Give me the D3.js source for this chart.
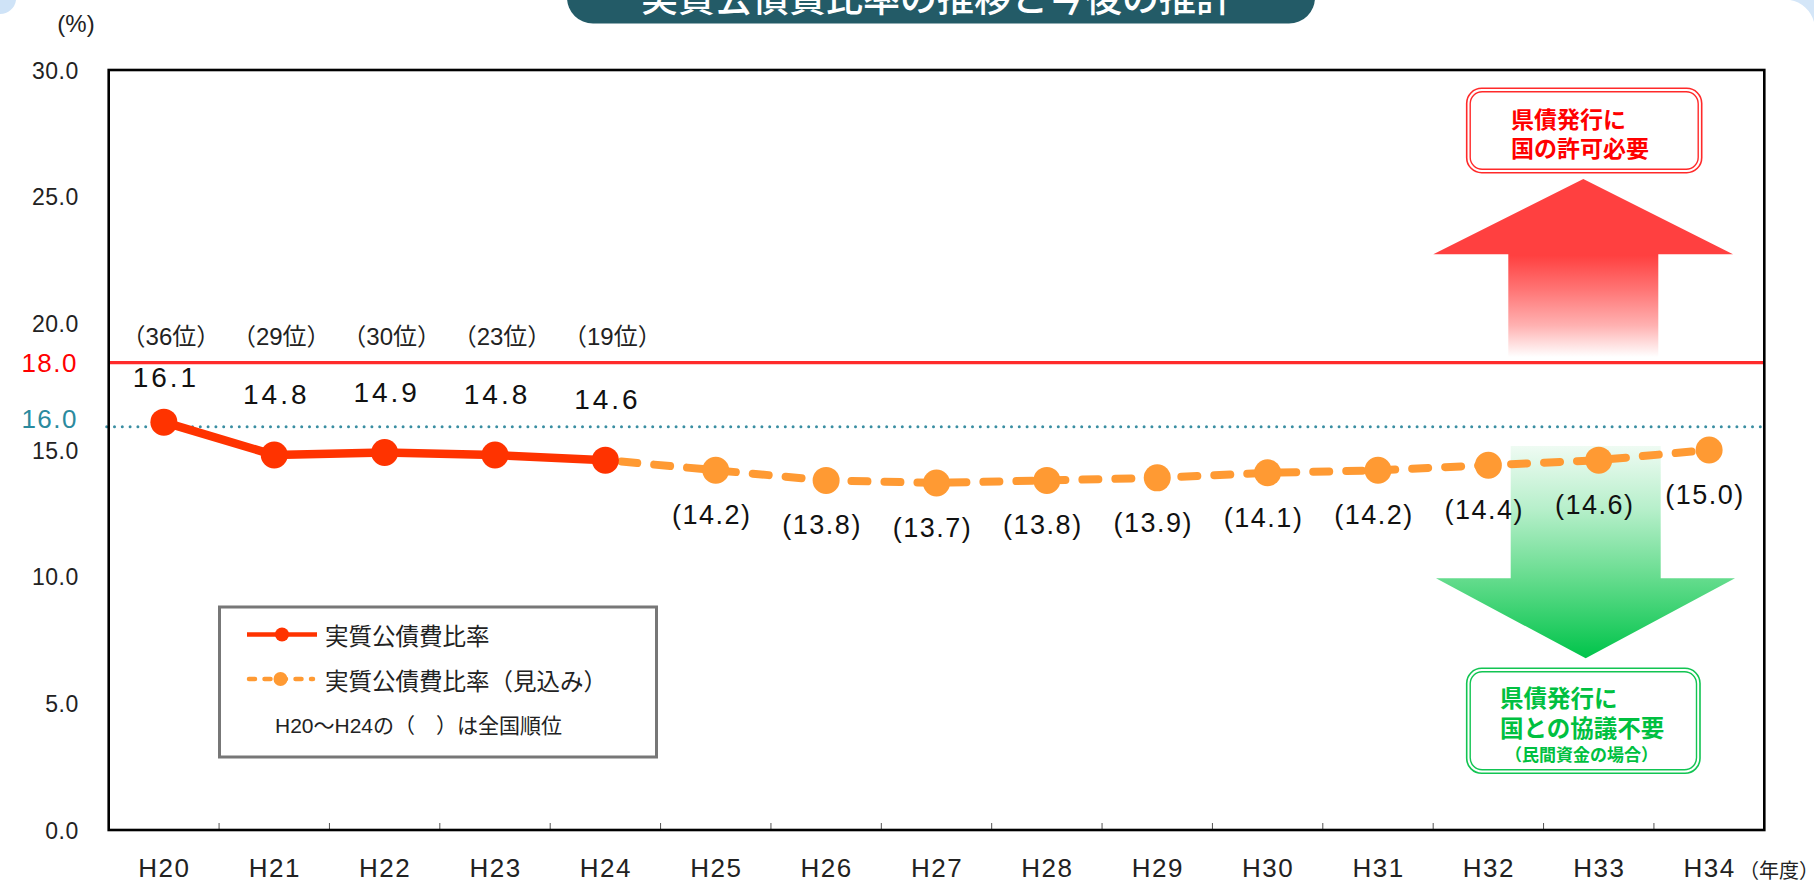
<!DOCTYPE html>
<html>
<head>
<meta charset="utf-8">
<script src="https://cdn.jsdelivr.net/npm/d3@7"></script>
<style>
  html, body { margin: 0; padding: 0; background: #ffffff; }
  svg { display: block; }
</style>
</head>
<body>
<svg id="chart" width="1814" height="883"></svg>
<script>
// ---------------- DATA ----------------
const years = ["H20","H21","H22","H23","H24","H25","H26","H27","H28","H29","H30","H31","H32","H33","H34"];
const actualYears = ["H20","H21","H22","H23","H24"];
const actualValues = [16.1, 14.8, 14.9, 14.8, 14.6];
const actualRanks = ["（36位）","（29位）","（30位）","（23位）","（19位）"];
const forecastYears = ["H24","H25","H26","H27","H28","H29","H30","H31","H32","H33","H34"];
const forecastValues = [14.6, 14.2, 13.8, 13.7, 13.8, 13.9, 14.1, 14.2, 14.4, 14.6, 15.0];
const yTickValues = [0, 5, 10, 15, 20, 25, 30];
const permitLineValue = 18.45;   // red line as drawn in the picture (labelled 18.0)
const permitLabel = "18.0";
const consultLineValue = 16.0;
const consultLabel = "16.0";
const titleText = "実質公債費比率の推移と今後の推計";
const legendLabels = ["実質公債費比率", "実質公債費比率（見込み）"];
const legendNote = "H20～H24の（　）は全国順位";
const redBoxLines = ["県債発行に", "国の許可必要"];
const greenBoxLines = ["県債発行に", "国との協議不要"];
const greenBoxSub = "（民間資金の場合）";

// ---------------- LAYOUT ----------------
const svg = d3.select("#chart");
const L = 108.7, R = 1764.3, T = 70, B = 830;
const NUM_FONT = "'Liberation Sans', Arial, 'Noto Sans CJK JP', sans-serif";
const JP_FONT = "'Noto Sans CJK JP', 'Noto Sans', sans-serif";

const x = d3.scalePoint().domain(years).range([L, R]).padding(0.5);
const y = d3.scaleLinear().domain([0, 30]).range([B, T]);
const step = x.step();

const COL_ACT = "#ff3300";
const COL_FC = "#ff9a33";
const COL_RED = "#ff2a2a";
const COL_TEAL = "#3a8ea2";
const COL_GREEN = "#12c452";

// decorative background corners
svg.append("path").attr("d", "M0,0 L16,0 A16,16 0 0 1 0,14 Z").attr("fill", "#cfe3f7");
svg.append("path").attr("d", "M1790,0 L1814,0 L1814,22 A30,30 0 0 0 1790,0 Z").attr("fill", "#d4e6f8");

// title banner
svg.append("rect").attr("x", 567).attr("y", -40).attr("width", 748).attr("height", 63.5)
  .attr("rx", 26).attr("fill", "#235b67");
svg.append("text").attr("x", 937).attr("y", -4).attr("text-anchor", "middle")
  .attr("dominant-baseline", "central").attr("fill", "#ffffff")
  .style("font-family", JP_FONT).style("font-weight", 500).style("font-size", "37px")
  .text(titleText);

// defs: gradients
const defs = svg.append("defs");
const gRed = defs.append("linearGradient").attr("id", "gradRed")
  .attr("gradientUnits", "userSpaceOnUse").attr("x1", 0).attr("x2", 0).attr("y1", 179).attr("y2", 357);
[[0, "#ff4040"], [0.43, "#ff4040"], [0.62, "#ff7474"], [0.82, "#ffb0b0"], [1, "#ffffff"]]
  .forEach(s => gRed.append("stop").attr("offset", s[0]).attr("stop-color", s[1]));
const gGreen = defs.append("linearGradient").attr("id", "gradGreen")
  .attr("gradientUnits", "userSpaceOnUse").attr("x1", 0).attr("x2", 0).attr("y1", 446).attr("y2", 658);
[[0, "#effbf3"], [0.3, "#b6efca"], [0.62, "#66dc8e"], [1, "#00c44a"]]
  .forEach(s => gGreen.append("stop").attr("offset", s[0]).attr("stop-color", s[1]));

// ---------------- ARROWS & BOXES ----------------
const redArrow = [[1583.3,179],[1733,254.3],[1658.3,254.3],[1658.3,357],[1508.3,357],[1508.3,254.3],[1433.3,254.3]];
svg.append("polygon").attr("points", redArrow.map(p => p.join(",")).join(" ")).attr("fill", "url(#gradRed)");
const greenArrow = [[1510.7,446],[1660.7,446],[1660.7,578.3],[1735,578.3],[1585.7,658.3],[1436,578.3],[1510.7,578.3]];
svg.append("polygon").attr("points", greenArrow.map(p => p.join(",")).join(" ")).attr("fill", "url(#gradGreen)");

function doubleBox(x0, y0, w, h, col) {
  svg.append("rect").attr("x", x0).attr("y", y0).attr("width", w).attr("height", h)
    .attr("rx", 15).attr("fill", "#ffffff").attr("stroke", col).attr("stroke-width", 1.6);
  svg.append("rect").attr("x", x0 + 3.5).attr("y", y0 + 3.5).attr("width", w - 7).attr("height", h - 7)
    .attr("rx", 12).attr("fill", "none").attr("stroke", col).attr("stroke-width", 1.4);
}
doubleBox(1466.7, 88.3, 235, 84.4, COL_RED);
redBoxLines.forEach((t, i) => {
  svg.append("text").attr("x", 1511).attr("y", 118 + i * 29).attr("dominant-baseline", "central")
    .attr("fill", "#ff0000").style("font-family", JP_FONT).style("font-weight", 700)
    .style("font-size", "23px").text(t);
});
doubleBox(1466.7, 668.3, 233.3, 105, COL_GREEN);
greenBoxLines.forEach((t, i) => {
  svg.append("text").attr("x", 1500).attr("y", 697 + i * 30).attr("dominant-baseline", "central")
    .attr("fill", "#00c040").style("font-family", JP_FONT).style("font-weight", 700)
    .style("font-size", "23.5px").text(t);
});
svg.append("text").attr("x", 1505).attr("y", 753).attr("dominant-baseline", "central")
  .attr("fill", "#00c040").style("font-family", JP_FONT).style("font-weight", 700)
  .style("font-size", "17px").text(greenBoxSub);

// ---------------- REFERENCE LINES ----------------
svg.append("line").attr("x1", L).attr("x2", R).attr("y1", y(permitLineValue)).attr("y2", y(permitLineValue))
  .attr("stroke", COL_RED).attr("stroke-width", 3.2);
svg.append("line").attr("x1", L - 2).attr("x2", R - 4).attr("y1", y(consultLineValue) + 2).attr("y2", y(consultLineValue) + 2)
  .attr("stroke", COL_TEAL).attr("stroke-width", 3).attr("stroke-linecap", "round")
  .attr("stroke-dasharray", "0,7.8");

// ---------------- AXES ----------------
const yAxis = d3.axisLeft(y).tickValues(yTickValues).tickSize(0).tickPadding(0).tickFormat(d3.format(".1f"));
const yg = svg.append("g").attr("transform", `translate(${L - 30},0)`).call(yAxis);
yg.select(".domain").remove();
yg.selectAll("text").attr("x", 0).attr("dy", "0.35em").attr("fill", "#222")
  .style("font-family", NUM_FONT).style("font-size", "23px").style("letter-spacing", "0.5px");

svg.append("text").attr("x", 78).attr("y", y(permitLineValue)).attr("dy", "0.36em").attr("text-anchor", "end")
  .attr("fill", "#ff0000").style("font-family", NUM_FONT).style("font-size", "26px")
  .style("letter-spacing", "1.5px").text(permitLabel);
svg.append("text").attr("x", 78).attr("y", y(consultLineValue) - 6).attr("dy", "0.36em").attr("text-anchor", "end")
  .attr("fill", "#2b8a9e").style("font-family", NUM_FONT).style("font-size", "26px")
  .style("letter-spacing", "1.5px").text(consultLabel);

svg.append("text").attr("x", 76).attr("y", 23).attr("dominant-baseline", "central").attr("text-anchor", "middle")
  .attr("fill", "#222").style("font-family", NUM_FONT).style("font-size", "24px").text("(%)");

// x ticks (category boundaries, pointing inward)
svg.append("g").selectAll("line").data(years.slice(1)).join("line")
  .attr("x1", d => x(d) - step / 2).attr("x2", d => x(d) - step / 2)
  .attr("y1", B).attr("y2", B - 7).attr("stroke", "#555").attr("stroke-width", 1);

const xAxis = d3.axisBottom(x).tickSize(0).tickPadding(0);
const xg = svg.append("g").attr("transform", `translate(0,${B})`).call(xAxis);
xg.select(".domain").remove();
xg.selectAll("text").attr("y", 38).attr("dy", "0.35em").attr("fill", "#222")
  .style("font-family", NUM_FONT).style("font-size", "26px").style("letter-spacing", "1.5px");
svg.append("text").attr("x", 1779).attr("y", 869).attr("dominant-baseline", "central").attr("text-anchor", "middle")
  .attr("fill", "#222").style("font-family", JP_FONT).style("font-size", "20px").text("（年度）");

// plot frame
svg.append("rect").attr("x", L).attr("y", T).attr("width", R - L).attr("height", B - T)
  .attr("fill", "none").attr("stroke", "#000").attr("stroke-width", 2.6);

// ---------------- LEGEND ----------------
const lg = svg.append("g");
lg.append("rect").attr("x", 219.5).attr("y", 607).attr("width", 437).attr("height", 150)
  .attr("fill", "#fff").attr("stroke", "#777").attr("stroke-width", 3);
lg.append("line").attr("x1", 247).attr("x2", 317).attr("y1", 634.5).attr("y2", 634.5)
  .attr("stroke", COL_ACT).attr("stroke-width", 4.5);
lg.append("circle").attr("cx", 282).attr("cy", 634.5).attr("r", 7).attr("fill", COL_ACT);
lg.append("line").attr("x1", 249).attr("x2", 313).attr("y1", 679).attr("y2", 679)
  .attr("stroke", COL_FC).attr("stroke-width", 4.5).attr("stroke-linecap", "round")
  .attr("stroke-dasharray", "6,9.5");
lg.append("circle").attr("cx", 280.5).attr("cy", 679).attr("r", 7).attr("fill", COL_FC);
legendLabels.forEach((t, i) => {
  lg.append("text").attr("x", 325).attr("y", 635 + i * 45).attr("dominant-baseline", "central")
    .attr("fill", "#222").style("font-family", JP_FONT).style("font-size", "23.5px").text(t);
});
lg.append("text").attr("x", 275).attr("y", 725).attr("dominant-baseline", "central")
  .attr("fill", "#222").style("font-family", NUM_FONT).style("font-size", "21px").text(legendNote);

// ---------------- SERIES ----------------
const fcData = forecastYears.map((d, i) => ({ year: d, value: forecastValues[i] }));
const actData = actualYears.map((d, i) => ({ year: d, value: actualValues[i], rank: actualRanks[i] }));
const line = d3.line().x(d => x(d.year)).y(d => y(d.value));

svg.append("path").datum(fcData).attr("d", line).attr("fill", "none")
  .attr("stroke", COL_FC).attr("stroke-width", 8).attr("stroke-linecap", "round")
  .attr("stroke-dasharray", "16,17").attr("stroke-dashoffset", -16);
svg.append("g").selectAll("circle").data(fcData.slice(1)).join("circle")
  .attr("cx", d => x(d.year)).attr("cy", d => y(d.value)).attr("r", 13.5).attr("fill", COL_FC);

svg.append("path").datum(actData).attr("d", line).attr("fill", "none")
  .attr("stroke", COL_ACT).attr("stroke-width", 8.5).attr("stroke-linejoin", "round");
svg.append("g").selectAll("circle").data(actData).join("circle")
  .attr("cx", d => x(d.year)).attr("cy", d => y(d.value)).attr("r", 13.5).attr("fill", COL_ACT);

// value labels – actual (above, kept below the red line)
const redY = y(permitLineValue);
svg.append("g").selectAll("text").data(actData).join("text")
  .attr("x", d => x(d.year) + 2)
  .attr("y", d => Math.max(y(d.value) - 61, redY + 14))
  .attr("dy", "0.36em").attr("text-anchor", "middle").attr("fill", "#111")
  .style("font-family", NUM_FONT).style("font-size", "28px").style("letter-spacing", "3px")
  .text(d => d3.format(".1f")(d.value));
// rank labels
svg.append("g").selectAll("text").data(actData).join("text")
  .attr("x", d => x(d.year) + 7).attr("y", 336.5)
  .attr("dominant-baseline", "central").attr("text-anchor", "middle").attr("fill", "#222")
  .style("font-family", NUM_FONT).style("font-size", "24px")
  .text(d => d.rank);
// value labels – forecast (below)
svg.append("g").selectAll("text").data(fcData.slice(1)).join("text")
  .attr("x", d => x(d.year) - 4)
  .attr("y", d => y(d.value) + 44)
  .attr("dy", "0.36em").attr("text-anchor", "middle").attr("fill", "#111")
  .style("font-family", NUM_FONT).style("font-size", "27px").style("letter-spacing", "1.5px")
  .text(d => "(" + d3.format(".1f")(d.value) + ")");
</script>
</body>
</html>
